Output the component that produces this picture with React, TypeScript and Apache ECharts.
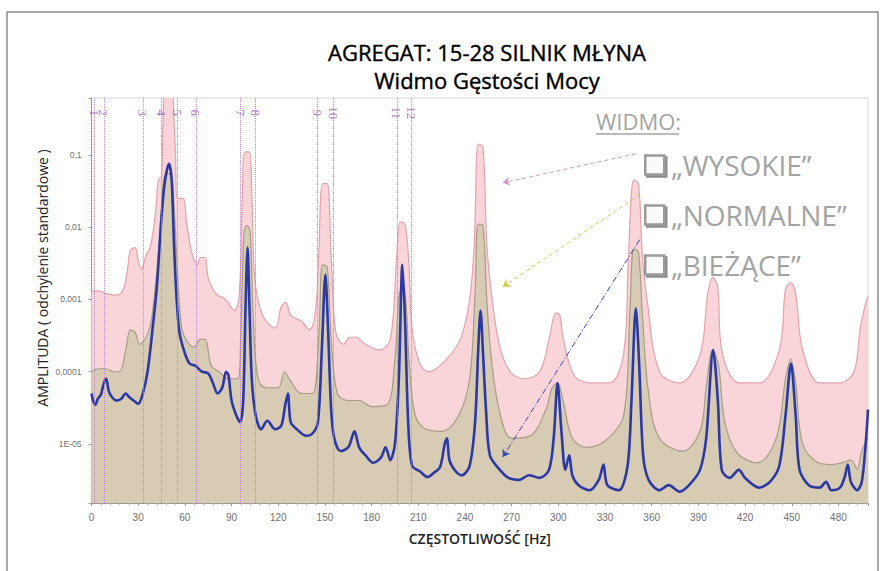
import React, { useEffect, useRef } from 'react';
import * as echarts from 'echarts';

const TITLE_LINES = ['AGREGAT: 15-28 SILNIK MŁYNA', 'Widmo Gęstości Mocy'];
const X_NAME = 'CZĘSTOTLIWOŚĆ [Hz]';
const Y_NAME = 'AMPLITUDA ( odchylenie standardowe )';
const SERIES_NAMES = ['WYSOKIE', 'NORMALNE', 'BIEŻĄCE'];
const LEGEND_HEADER = 'WIDMO:';
const X_MIN = 0;
const X_MAX = 499;
const X_TICK_STEP = 30;
const Y_MIN = 1.53e-6;
const Y_MAX = 0.61;
const Y_TICK_LABELS: Record<string, string> = {
  '-1': '0,1',
  '-2': '0,01',
  '-3': '0,001',
  '-4': '0,0001',
  '-5': '1E-05',
};
const MARKER_FREQS = [2, 8, 33, 45, 55, 67, 95.5, 105.5, 145.3, 155.3, 196.2, 205.8];
const MARKER_LABELS = ['1', '2', '3', '4', '5', '6', '7', '8', '9', '10', '11', '12'];
const MARKER_LABEL_LEVEL = 0.46;

// [Hz, amplitude]
const WYSOKIE: [number, number][] = [
  [0, 0.0013], [5, 0.0013], [10, 0.0012], [15, 0.00115], [20, 0.0013], [23, 0.0025], [25, 0.0048],
  [28, 0.0052], [30, 0.0035], [32, 0.0026], [35, 0.004], [38, 0.0055], [41, 0.015], [43, 0.045],
  [45, 0.05], [46, 0.3], [47, 0.65], [52, 0.65], [53, 0.3], [54, 0.1], [55, 0.025], [59, 0.025],
  [61, 0.012], [64, 0.0049], [66, 0.0035], [68, 0.003], [70, 0.0038], [73, 0.0038], [75, 0.002],
  [80, 0.0012], [86, 0.001], [92, 0.0007], [95, 0.0012], [97, 0.03], [98.5, 0.11], [101.5, 0.11],
  [103, 0.03], [105, 0.0019], [110, 0.0006], [118, 0.0004], [122, 0.0008], [125, 0.0009], [128, 0.0006],
  [135, 0.0005], [140, 0.00038], [144, 0.0007], [146, 0.004], [148.5, 0.04], [151.5, 0.04], [154, 0.004],
  [157, 0.00035], [162, 0.00024], [166, 0.0003], [170, 0.0003], [176, 0.00024], [185, 0.0002],
  [192, 0.00028], [196, 0.0035], [198.5, 0.0118], [201.5, 0.011], [204, 0.003], [206, 0.0004],
  [211, 0.00013], [217, 0.0001], [227, 0.00014], [237, 0.00028], [243, 0.001], [246, 0.006],
  [248.5, 0.14], [251.5, 0.13], [254, 0.006], [257, 0.0012], [262, 0.00024], [269, 0.0001],
  [278, 0.00008], [288, 0.0001], [294, 0.00028], [298.5, 0.00065], [301, 0.0006], [303, 0.0003],
  [310, 0.00009], [320, 0.00007], [333, 0.00007], [342, 0.00018], [345, 0.0035], [348.5, 0.045],
  [351.5, 0.04], [354, 0.004], [357, 0.001], [365, 0.0001], [378, 0.00007], [391, 0.00017],
  [396, 0.0012], [399.2, 0.002], [402.4, 0.0015], [405, 0.0002], [416, 0.00007], [429, 0.00007],
  [442, 0.0002], [446, 0.0014], [449.3, 0.0017], [452.5, 0.0012], [457, 0.0002], [468, 0.00007],
  [481, 0.00007], [490, 0.0001], [494, 0.0004], [497, 0.0008], [499, 0.0011],
];

const NORMALNE: [number, number][] = [
  [0, 0.0001], [5, 0.00011], [9, 0.00011], [14, 0.0001], [18, 0.0001], [22, 0.0002], [25, 0.00038],
  [28, 0.00035], [31, 0.00024], [35, 0.0003], [38, 0.00045], [41, 0.0015], [44, 0.008], [46, 0.04],
  [48, 0.055], [51, 0.055], [53, 0.02], [55, 0.003], [58, 0.0004], [62, 0.00025], [66, 0.00022],
  [70, 0.00028], [73, 0.00028], [77, 0.00012], [82, 0.0001], [88, 0.00008], [94, 0.00008],
  [96, 0.0004], [98, 0.0085], [100, 0.0105], [102, 0.0085], [104, 0.0005], [107, 0.00008],
  [112, 0.00006], [120, 0.00006], [124, 0.0001], [127, 0.00008], [135, 0.00005], [142, 0.00005],
  [146, 0.0003], [148.5, 0.003], [151.5, 0.0028], [154, 0.0003], [158, 0.00005], [165, 0.00004],
  [172, 0.00004], [180, 0.000033], [190, 0.000035], [195, 0.00015], [198.5, 0.0013], [201.5, 0.0012],
  [204, 0.00015], [208, 0.000025], [215, 0.000016], [225, 0.000015], [236, 0.000025], [243, 0.00008],
  [246.5, 0.0012], [248.5, 0.011], [251.5, 0.0105], [254, 0.001], [257, 0.00015], [262, 0.00003],
  [270, 0.000012], [282, 0.000013], [292, 0.00003], [296, 0.00006], [299.5, 0.00007], [303, 0.00004],
  [309, 0.000012], [318, 0.000009], [330, 0.000011], [342, 0.000025], [346, 0.0007], [348.5, 0.005],
  [351.5, 0.0045], [354, 0.0006], [358, 0.00005], [365, 0.000012], [380, 0.000008], [391, 0.000015],
  [395, 0.00006], [399.2, 0.0002], [403, 0.00012], [407, 0.00002], [415, 0.0000075], [428, 0.0000055],
  [440, 0.000012], [446, 0.00008], [449.3, 0.00015], [452.5, 0.00007], [457, 0.00001], [467, 0.0000055],
  [475, 0.0000052], [482, 0.0000055], [488, 0.000006], [492, 0.0000045], [495, 0.000008], [499, 0.000012],
];

const BIEZACE: [number, number][] = [
  [0, 0.00005], [1, 0.00004], [2.5, 0.000035], [4, 0.000042], [6, 0.000048], [8, 0.00007], [9.5, 0.00008],
  [11, 0.000055], [13, 0.000045], [16, 0.00004], [19, 0.000042], [22, 0.00005], [24, 0.000045],
  [27, 0.00004], [30, 0.000036], [33, 0.00005], [36, 0.0001], [39, 0.00035], [42, 0.0015], [44.5, 0.01],
  [47, 0.04], [49.8, 0.075], [51.5, 0.045], [53, 0.006], [54.5, 0.0012], [56.5, 0.00035], [60, 0.00018],
  [63, 0.00013], [67, 0.00012], [71, 0.0001], [75, 0.000095], [78, 0.00007], [81, 0.00005], [84, 0.00006],
  [86.5, 0.0001], [88, 0.00009], [90, 0.00004], [93, 0.000025], [95.5, 0.00002], [97.5, 0.00004],
  [99, 0.0008], [100.3, 0.0052], [101.5, 0.0008], [103, 0.00008], [105.5, 0.000025], [109, 0.000016],
  [113, 0.000021], [118, 0.000016], [122, 0.000018], [124.5, 0.000035], [126.2, 0.00005], [128, 0.00002],
  [132, 0.000016], [138, 0.000013], [142, 0.000014], [145.5, 0.00002], [148, 0.0002], [150.3, 0.0022],
  [152, 0.0004], [154, 0.00003], [156, 0.000012], [160, 0.000008], [165, 0.000009], [169, 0.000015],
  [172, 0.000009], [176, 0.000007], [181, 0.0000055], [186, 0.0000065], [189, 0.000009], [192, 0.000006],
  [195, 0.00001], [197.5, 0.00008], [199.8, 0.003], [201.5, 0.0005], [203.5, 0.00002], [206, 0.000005],
  [211, 0.0000042], [216, 0.0000035], [220, 0.000004], [224, 0.0000048], [227, 0.00001], [228.5, 0.000012],
  [230, 0.000006], [234, 0.0000042], [238, 0.0000037], [243, 0.000005], [246.5, 0.00002], [248.5, 0.0002],
  [250, 0.0007], [251.5, 0.0002], [253.5, 0.00003], [256, 0.000007], [262, 0.0000045], [268, 0.0000034],
  [275, 0.0000032], [281, 0.0000037], [288, 0.0000034], [294, 0.0000044], [297, 0.000012], [299.5, 0.00007],
  [302, 0.000015], [304.5, 0.0000044], [307, 0.000007], [309, 0.0000037], [313, 0.0000027], [320, 0.0000023],
  [326, 0.0000032], [329, 0.0000052], [331.5, 0.0000027], [339, 0.0000023], [344.5, 0.000005], [347, 0.00004],
  [349.8, 0.00075], [352, 0.00012], [354.5, 0.000007], [358, 0.0000032], [365, 0.0000023], [371, 0.0000027],
  [378, 0.0000022], [384, 0.0000027], [391, 0.0000044], [395, 0.000012], [399.5, 0.0002], [402.5, 0.00004],
  [405, 0.0000044], [410, 0.0000034], [416, 0.0000044], [420, 0.0000034], [429, 0.0000025], [436, 0.000003],
  [442, 0.000005], [446, 0.000025], [449.5, 0.00013], [452.5, 0.000025], [455, 0.0000044], [461, 0.0000027],
  [468, 0.0000025], [472, 0.000003], [475.5, 0.0000023], [481, 0.0000025], [484, 0.0000035], [486, 0.0000052],
  [488, 0.000003], [492, 0.0000023], [495, 0.000003], [497.5, 0.00001], [499, 0.00003],
];

// annotation arrows: [startHz, startAmp, endHz, endAmp]
const ARROWS: [number, number, number, number][] = [
  [349.7, 0.103, 264.3, 0.041],
  [352.3, 0.028, 264.3, 0.0015],
  [352.3, 0.0067, 264.3, 0.0000066],
];
const ARROW_COLORS = ['#d49ac4', '#c9cf4a', '#3544b0'];
const ARROW_TYPES: any[] = [[4, 3], [4, 3], [6, 2, 1, 2]];

const PINK_FILL = '#f9d4d8';
const PINK_LINE = '#e3a2aa';
const TAN_FILL = '#d7cbb4';
const TAN_LINE = '#a59d86';
const BLUE = '#2c39a4';
const MARKER_COLOR = '#c57fd4';
const LEGEND_GRAY = '#a3a3a3';

export default function App() {
  const ref = useRef<HTMLDivElement>(null);
  useEffect(() => {
    if (!ref.current) return;
    const chart = echarts.init(ref.current, undefined, { renderer: 'svg' });
    const option: any = {
      animation: false,
      backgroundColor: '#ffffff',
      title: {
        text: TITLE_LINES.join('\n'),
        left: 482,
        top: 33,
        textAlign: 'center',
        textStyle: {
          fontFamily: '"Open Sans"',
          fontSize: 22,
          fontWeight: 'normal',
          color: '#000',
          lineHeight: 28,
          textBorderColor: '#000',
          textBorderWidth: 0.4,
        },
      },
      legend: {
        orient: 'vertical',
        left: 639,
        top: 146,
        data: SERIES_NAMES,
        icon: 'rect',
        itemWidth: 19,
        itemHeight: 19,
        itemGap: 22,
        selectedMode: false,
        formatter: (n: string) => '\u201E' + n + '\u201D',
        itemStyle: {
          color: '#fafafa',
          borderColor: '#9a9a9a',
          borderWidth: 2.5,
          shadowColor: 'rgba(90,90,90,0.7)',
          shadowOffsetX: 2,
          shadowOffsetY: 2,
          shadowBlur: 1,
        },
        lineStyle: { opacity: 0 },
        textStyle: {
          fontFamily: '"Open Sans"',
          fontSize: 28,
          color: LEGEND_GRAY,
          lineHeight: 19,
          padding: [0, 0, 0, 2],
        },
      },
      grid: {
        left: 91.5,
        right: 20,
        top: 98,
        bottom: 68,
        show: true,
        borderColor: '#d4d4d4',
        borderWidth: 1,
        backgroundColor: '#ffffff',
      },
      xAxis: {
        type: 'value',
        min: X_MIN,
        max: X_MAX,
        interval: X_TICK_STEP,
        name: X_NAME,
        nameLocation: 'middle',
        nameGap: 28,
        nameTextStyle: {
          fontFamily: '"Open Sans"',
          fontSize: 14,
          fontWeight: 600,
          color: '#222',
        },
        axisLine: { lineStyle: { color: '#999', width: 1 } },
        axisTick: { show: true, length: 3, lineStyle: { color: '#999' } },
        minorTick: { show: true, splitNumber: 5, length: 2, lineStyle: { color: '#bbb' } },
        splitLine: { show: false },
        axisLabel: {
          fontFamily: '"Liberation Sans Narrow", "Liberation Sans"',
          fontSize: 10,
          color: '#707070',
          margin: 9,
          formatter: (v: number) => (v % X_TICK_STEP === 0 ? String(v) : ''),
        },
      },
      yAxis: {
        type: 'log',
        logBase: 10,
        min: Y_MIN,
        max: Y_MAX,
        axisLine: { show: true, lineStyle: { color: '#999', width: 1 } },
        axisTick: { show: true, length: 3, lineStyle: { color: '#999' } },
        splitLine: { show: false },
        axisLabel: {
          fontFamily: '"Liberation Sans"',
          fontSize: 8.5,
          color: '#707070',
          margin: 10,
          formatter: (v: number) => {
            const e = Math.log10(v);
            const r = Math.round(e);
            if (Math.abs(e - r) > 0.01) return '';
            return Y_TICK_LABELS[String(r)] || '';
          },
        },
      },
      graphic: [
        {
          type: 'rect',
          shape: { x: 7, y: 12, width: 871, height: 580 },
          style: { fill: 'none', stroke: '#8c8c8c', lineWidth: 1.5 },
          silent: true,
        },
        {
          type: 'text',
          x: 42,
          y: 278,
          rotation: Math.PI / 2,
          style: {
            text: Y_NAME,
            fontFamily: '"Open Sans"',
            fontSize: 14,
            fill: '#222',
            align: 'center',
            verticalAlign: 'middle',
          },
        },
        {
          type: 'text',
          x: 596,
          y: 121,
          style: {
            text: LEGEND_HEADER,
            fontFamily: '"Open Sans"',
            fontSize: 22,
            fill: LEGEND_GRAY,
            align: 'left',
            verticalAlign: 'middle',
          },
        },
        {
          type: 'line',
          shape: { x1: 596, y1: 134, x2: 679, y2: 134 },
          style: { stroke: LEGEND_GRAY, lineWidth: 1.5 },
        },
      ],
      series: [
        {
          name: SERIES_NAMES[0],
          type: 'line',
          data: WYSOKIE,
          showSymbol: false,
          smooth: 0.35,
          z: 1,
          lineStyle: { color: PINK_LINE, width: 1.2 },
          itemStyle: { color: PINK_FILL },
          areaStyle: { color: PINK_FILL, opacity: 1, origin: 'start' },
        },
        {
          name: SERIES_NAMES[1],
          type: 'line',
          data: NORMALNE,
          showSymbol: false,
          smooth: 0.35,
          z: 2,
          lineStyle: { color: TAN_LINE, width: 1.2 },
          itemStyle: { color: TAN_FILL },
          areaStyle: { color: TAN_FILL, opacity: 1, origin: 'start' },
          markLine: {
            silent: true,
            symbol: ['none', 'arrow'],
            symbolSize: 7,
            label: { show: false },
            data: ARROWS.map((a, i) => [
              {
                coord: [a[0], a[1]],
                lineStyle: { color: ARROW_COLORS[i], type: ARROW_TYPES[i], width: 1 },
              },
              { coord: [a[2], a[3]] },
            ]),
          },
        },
        {
          name: SERIES_NAMES[2],
          type: 'line',
          data: BIEZACE,
          showSymbol: false,
          smooth: 0.3,
          z: 3,
          lineStyle: { color: BLUE, width: 2.6 },
          itemStyle: { color: BLUE },
          markLine: {
            silent: true,
            symbol: 'none',
            label: { show: false },
            lineStyle: { color: MARKER_COLOR, type: 'dotted', width: 1 },
            data: MARKER_FREQS.map((f) => ({ xAxis: f })),
          },
        },
        {
          name: 'markers',
          type: 'scatter',
          z: 4,
          symbolSize: 0,
          silent: true,
          data: MARKER_FREQS.map((f) => [f, MARKER_LABEL_LEVEL]),
          label: {
            show: true,
            position: 'inside',
            rotate: -90,
            offset: [6, 0],
            fontFamily: '"Liberation Serif"',
            fontSize: 13,
            color: '#9a4db0',
            formatter: (p: any) => MARKER_LABELS[p.dataIndex],
          },
        },
      ],
    };
    chart.setOption(option);
    return () => chart.dispose();
  }, []);
  return (
    <div
      ref={ref}
      style={{ position: 'fixed', left: 0, top: 0, width: 888, height: 571 }}
    />
  );
}
